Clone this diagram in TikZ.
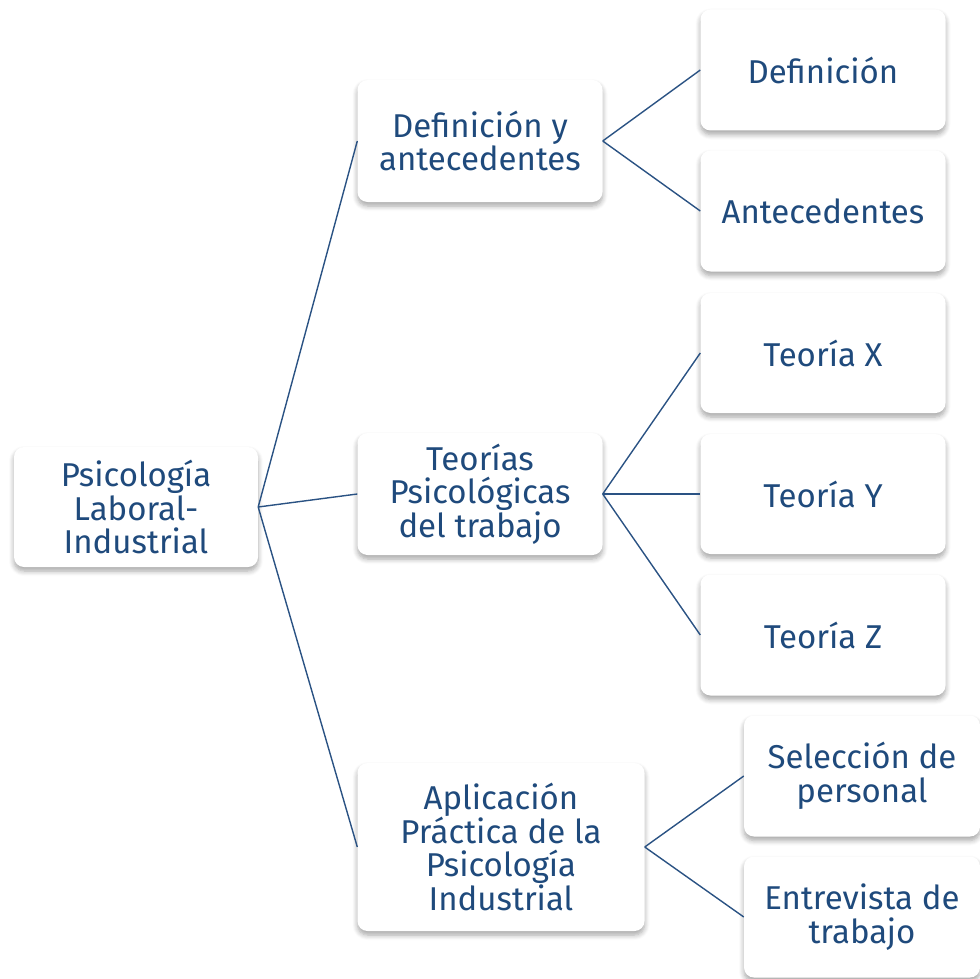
\documentclass[tikz,border=0pt]{standalone}
\usepackage{fontspec}
\setmainfont{Fira Sans}
\usetikzlibrary{shadows.blur}
\definecolor{txt}{HTML}{1F4A7C}
\definecolor{ln}{HTML}{2A5283}
\tikzset{
  box/.style={rounded corners=10pt, fill=white, align=center, text=txt,
    font=\fontsize{33}{33.5}\selectfont, inner sep=0pt,
    blur shadow={shadow xshift=0pt, shadow yshift=-4pt, shadow blur steps=6, shadow blur radius=5pt, shadow opacity=35}},
  conn/.style={draw=ln, line width=1.4pt}
}
\begin{document}
\begin{tikzpicture}[x=1pt,y=-1pt]
\useasboundingbox (0,0) rectangle (980,979);
\node[box, minimum width=244pt, minimum height=120pt] (root) at (136,507) {Psicología\\Laboral-\\Industrial};
\node[box, minimum width=245pt, minimum height=122pt] (def) at (480,141) {Definición y\\antecedentes};
\node[box, minimum width=245pt, minimum height=122pt] (teo) at (480,494) {Teorías\\Psicológicas\\del trabajo};
\node[box, minimum width=287pt, minimum height=168pt] (apl) at (501,847) {Aplicación\\Práctica de la\\Psicología\\Industrial};
\node[box, minimum width=245pt, minimum height=121pt] (d1) at (823,70) {Definición};
\node[box, minimum width=245pt, minimum height=121pt] (d2) at (823,211) {Antecedentes};
\node[box, minimum width=245pt, minimum height=120pt] (tx) at (823,353) {Teoría X};
\node[box, minimum width=245pt, minimum height=120pt] (ty) at (823,494) {Teoría Y};
\node[box, minimum width=245pt, minimum height=121pt] (tz) at (823,635) {Teoría Z};
\node[box, minimum width=236pt, minimum height=121pt] (s1) at (862,776) {Selección de\\personal};
\node[box, minimum width=236pt, minimum height=121pt] (s2) at (862,917) {Entrevista de\\trabajo};
\draw[conn] (root.east) -- (def.west);
\draw[conn] (root.east) -- (teo.west);
\draw[conn] (root.east) -- (apl.west);
\draw[conn] (def.east) -- (d1.west);
\draw[conn] (def.east) -- (d2.west);
\draw[conn] (teo.east) -- (tx.west);
\draw[conn] (teo.east) -- (ty.west);
\draw[conn] (teo.east) -- (tz.west);
\draw[conn] (apl.east) -- (s1.west);
\draw[conn] (apl.east) -- (s2.west);
\end{tikzpicture}
\end{document}
